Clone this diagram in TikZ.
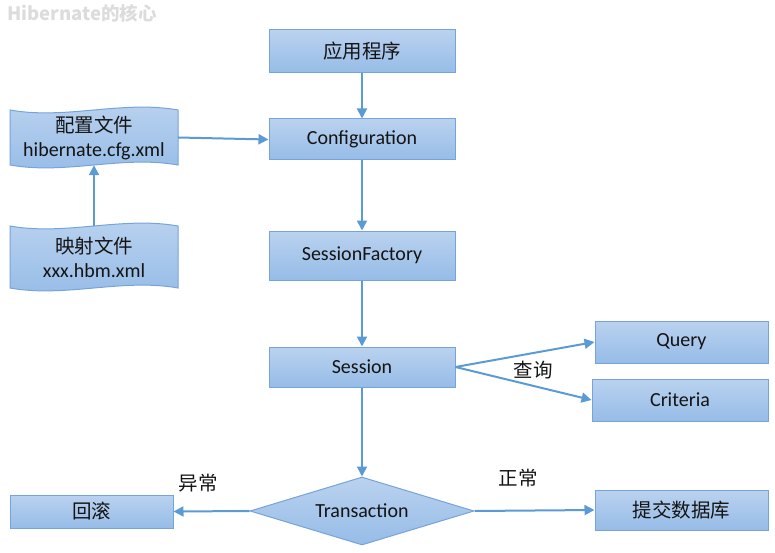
\documentclass[tikz,border=0pt]{standalone}
\usepackage{fontspec}
\setmainfont{Carlito}
\newfontfamily\cjk{Noto Sans CJK SC}
\usetikzlibrary{shapes.geometric,arrows.meta}
\definecolor{boxtop}{RGB}{186,210,239}
\definecolor{boxbot}{RGB}{150,188,231}
\definecolor{boxline}{RGB}{118,164,218}
\definecolor{arr}{RGB}{91,155,213}
\definecolor{ttl}{RGB}{220,220,220}
\definecolor{txt}{RGB}{20,20,20}
\begin{document}
\begin{tikzpicture}[x=1pt,y=-1pt,
  box/.style={draw=boxline,line width=1pt,top color=boxtop,bottom color=boxbot,
    inner sep=0pt,text=txt,font=\fontsize{20}{22}\selectfont},
  zh/.style={font=\cjk\fontsize{19.5}{22}\selectfont,text=txt},
  docbox/.style={draw=boxline,line width=1pt,top color=boxtop,bottom color=boxbot},
  doclabel/.style={inner sep=0pt,minimum width=168pt,align=center,text=txt,font=\fontsize{20}{24}\selectfont},
  arrow/.style={draw=arr,line width=2pt,-{Triangle[width=10pt,length=10pt]}}
]
\useasboundingbox (0,0) rectangle (775,553);

% title
\node[anchor=west,inner sep=0pt,text=ttl,font=\cjk\bfseries\fontsize{18.5}{20}\selectfont] (title) at (7,13) {Hibernate的核心};

% main boxes
\node[box,minimum width=186pt,minimum height=43pt,font=\cjk\fontsize{19.5}{22}\selectfont] (app) at (362,51.5) {应用程序};
\node[box,minimum width=186pt,minimum height=41pt] (conf) at (362,139.5) {Configuration};
\node[box,minimum width=186pt,minimum height=49pt] (sf) at (362,255.5) {SessionFactory};
\node[box,minimum width=186pt,minimum height=40pt] (sess) at (362,367) {Session};
\node[box,minimum width=173pt,minimum height=42pt] (query) at (681.5,342) {Query};
\node[box,minimum width=176pt,minimum height=42pt] (crit) at (680,400) {Criteria};
\node[box,minimum width=163pt,minimum height=33pt,font=\cjk\fontsize{19.5}{22}\selectfont] (rb) at (91.5,511.5) {回滚};
\node[box,minimum width=173pt,minimum height=40pt,font=\cjk\fontsize{19.5}{22}\selectfont] (commit) at (681.5,510) {提交数据库};
\node[diamond,draw=boxline,line width=1pt,top color=boxtop,bottom color=boxbot,
  minimum width=224pt,minimum height=68pt,inner sep=0pt,aspect=3.3,text=txt,
  font=\fontsize{20}{22}\selectfont] (tx) at (362,511) {Transaction};

% document shapes
\path[docbox] (10,110) .. controls (66,120) and (122,100) .. (178,110)
  -- (178,165) .. controls (122,155) and (66,175) .. (10,165) -- cycle;
\node[doclabel,minimum height=55pt] (cfg) at (94,137.5)
  {{\cjk\fontsize{19.5}{24}\selectfont 配置文件}\\hibernate.cfg.xml};
\path[docbox] (10,226) .. controls (66,236) and (122,216) .. (178,226)
  -- (178,288) .. controls (122,278) and (66,298) .. (10,288) -- cycle;
\node[doclabel,minimum height=62pt] (hbm) at (94,257)
  {{\cjk\fontsize{19.5}{24}\selectfont 映射文件}\\xxx.hbm.xml};

% connectors
\draw[arrow] (app) -- (conf);
\draw[arrow] (conf) -- (sf);
\draw[arrow] (sf) -- (sess);
\draw[arrow] (sess) -- (tx.north);
\draw[arrow] (cfg.east) -- (conf.west);
\draw[arrow] (hbm.north) -- (cfg.south);
\draw[arrow] (sess.east) -- (query.west);
\draw[arrow] (sess.east) -- (crit.west);
\draw[arrow] (tx.west) -- (rb.east);
\draw[arrow] (tx.east) -- (commit.west);

% labels
\node[zh] (lq) at (533,370) {查询};
\node[zh] (le) at (198,483) {异常};
\node[zh] (ln) at (518,478) {正常};
\end{tikzpicture}
\end{document}
